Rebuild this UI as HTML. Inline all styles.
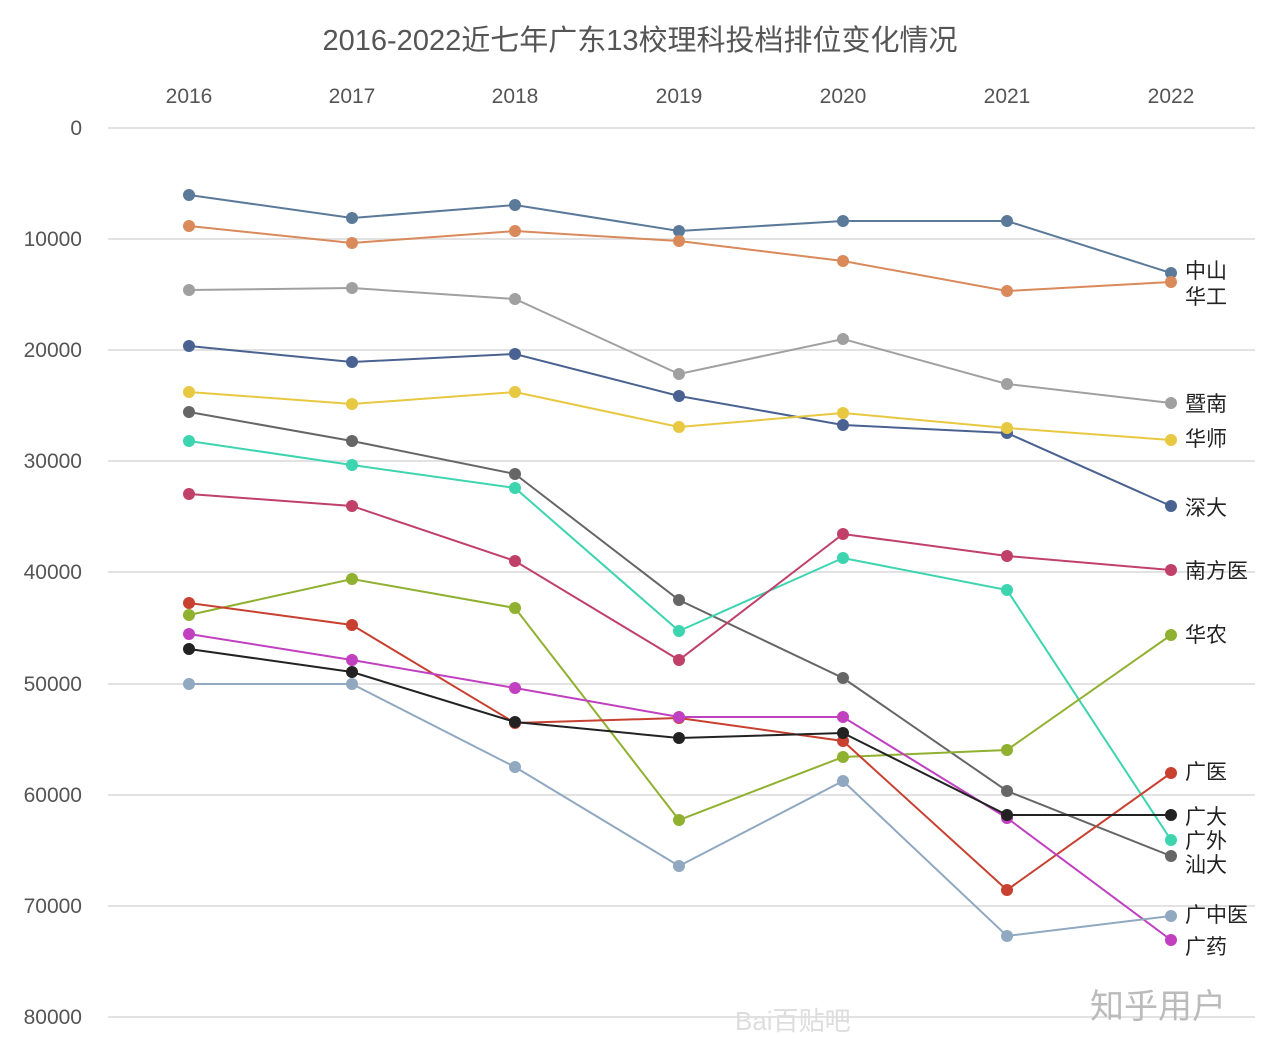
<!DOCTYPE html>
<html><head><meta charset="utf-8"><style>
html,body{margin:0;padding:0;background:#fff;}
svg{display:block;font-family:"Liberation Sans","Noto Sans CJK SC",sans-serif;}
</style></head><body>
<svg width="1280" height="1048" viewBox="0 0 1280 1048" xmlns="http://www.w3.org/2000/svg">
<rect width="1280" height="1048" fill="#fff"/>
<text x="640" y="50" text-anchor="middle" font-size="29" fill="#555">2016-2022近七年广东13校理科投档排位变化情况</text>
<g font-size="21" fill="#555" text-anchor="middle">
<text x="189" y="103">2016</text><text x="352" y="103">2017</text><text x="515" y="103">2018</text><text x="679" y="103">2019</text><text x="843" y="103">2020</text><text x="1007" y="103">2021</text><text x="1171" y="103">2022</text>
</g>
<g stroke="#e2e2e2" stroke-width="2">
<line x1="108" y1="128" x2="1255" y2="128"/><line x1="108" y1="239" x2="1255" y2="239"/><line x1="108" y1="350" x2="1255" y2="350"/><line x1="108" y1="461" x2="1255" y2="461"/><line x1="108" y1="572" x2="1255" y2="572"/><line x1="108" y1="684" x2="1255" y2="684"/><line x1="108" y1="795" x2="1255" y2="795"/><line x1="108" y1="906" x2="1255" y2="906"/><line x1="108" y1="1017" x2="1255" y2="1017"/>
</g>
<g font-size="21" fill="#555" text-anchor="end">
<text x="82" y="135">0</text><text x="82" y="246">10000</text><text x="82" y="357">20000</text><text x="82" y="468">30000</text><text x="82" y="579">40000</text><text x="82" y="691">50000</text><text x="82" y="802">60000</text><text x="82" y="913">70000</text><text x="82" y="1024">80000</text>
</g>
<g stroke-width="2" fill="none">
<polyline stroke="#5b7a9a" points="189,195 352,218 515,205 679,231 843,221 1007,221 1171,273"/>
<polyline stroke="#d9895a" points="189,226 352,243 515,231 679,241 843,261 1007,291 1171,282"/>
<polyline stroke="#a0a0a0" points="189,290 352,288 515,299 679,374 843,339 1007,384 1171,403"/>
<polyline stroke="#4a6291" points="189,346 352,362 515,354 679,396 843,425 1007,433 1171,506"/>
<polyline stroke="#e8c840" points="189,392 352,404 515,392 679,427 843,413 1007,428 1171,440"/>
<polyline stroke="#666666" points="189,412 352,441 515,474 679,600 843,678 1007,791 1171,856"/>
<polyline stroke="#3dd4b0" points="189,441 352,465 515,488 679,631 843,558 1007,590 1171,840"/>
<polyline stroke="#c0406a" points="189,494 352,506 515,561 679,660 843,534 1007,556 1171,570"/>
<polyline stroke="#90b030" points="189,615 352,579 515,608 679,820 843,757 1007,750 1171,635"/>
<polyline stroke="#c84030" points="189,603 352,625 515,723 679,718 843,741 1007,890 1171,773"/>
<polyline stroke="#c040c0" points="189,634 352,660 515,688 679,717 843,717 1007,818 1171,940"/>
<polyline stroke="#222222" points="189,649 352,672 515,722 679,738 843,733 1007,815 1171,815"/>
<polyline stroke="#90a8c0" points="189,684 352,684 515,767 679,866 843,781 1007,936 1171,916"/>
</g>
<g fill="#5b7a9a"><circle cx="189" cy="195" r="6"/><circle cx="352" cy="218" r="6"/><circle cx="515" cy="205" r="6"/><circle cx="679" cy="231" r="6"/><circle cx="843" cy="221" r="6"/><circle cx="1007" cy="221" r="6"/><circle cx="1171" cy="273" r="6"/></g>
<g fill="#d9895a"><circle cx="189" cy="226" r="6"/><circle cx="352" cy="243" r="6"/><circle cx="515" cy="231" r="6"/><circle cx="679" cy="241" r="6"/><circle cx="843" cy="261" r="6"/><circle cx="1007" cy="291" r="6"/><circle cx="1171" cy="282" r="6"/></g>
<g fill="#a0a0a0"><circle cx="189" cy="290" r="6"/><circle cx="352" cy="288" r="6"/><circle cx="515" cy="299" r="6"/><circle cx="679" cy="374" r="6"/><circle cx="843" cy="339" r="6"/><circle cx="1007" cy="384" r="6"/><circle cx="1171" cy="403" r="6"/></g>
<g fill="#4a6291"><circle cx="189" cy="346" r="6"/><circle cx="352" cy="362" r="6"/><circle cx="515" cy="354" r="6"/><circle cx="679" cy="396" r="6"/><circle cx="843" cy="425" r="6"/><circle cx="1007" cy="433" r="6"/><circle cx="1171" cy="506" r="6"/></g>
<g fill="#e8c840"><circle cx="189" cy="392" r="6"/><circle cx="352" cy="404" r="6"/><circle cx="515" cy="392" r="6"/><circle cx="679" cy="427" r="6"/><circle cx="843" cy="413" r="6"/><circle cx="1007" cy="428" r="6"/><circle cx="1171" cy="440" r="6"/></g>
<g fill="#666666"><circle cx="189" cy="412" r="6"/><circle cx="352" cy="441" r="6"/><circle cx="515" cy="474" r="6"/><circle cx="679" cy="600" r="6"/><circle cx="843" cy="678" r="6"/><circle cx="1007" cy="791" r="6"/><circle cx="1171" cy="856" r="6"/></g>
<g fill="#3dd4b0"><circle cx="189" cy="441" r="6"/><circle cx="352" cy="465" r="6"/><circle cx="515" cy="488" r="6"/><circle cx="679" cy="631" r="6"/><circle cx="843" cy="558" r="6"/><circle cx="1007" cy="590" r="6"/><circle cx="1171" cy="840" r="6"/></g>
<g fill="#c0406a"><circle cx="189" cy="494" r="6"/><circle cx="352" cy="506" r="6"/><circle cx="515" cy="561" r="6"/><circle cx="679" cy="660" r="6"/><circle cx="843" cy="534" r="6"/><circle cx="1007" cy="556" r="6"/><circle cx="1171" cy="570" r="6"/></g>
<g fill="#90b030"><circle cx="189" cy="615" r="6"/><circle cx="352" cy="579" r="6"/><circle cx="515" cy="608" r="6"/><circle cx="679" cy="820" r="6"/><circle cx="843" cy="757" r="6"/><circle cx="1007" cy="750" r="6"/><circle cx="1171" cy="635" r="6"/></g>
<g fill="#c84030"><circle cx="189" cy="603" r="6"/><circle cx="352" cy="625" r="6"/><circle cx="515" cy="723" r="6"/><circle cx="679" cy="718" r="6"/><circle cx="843" cy="741" r="6"/><circle cx="1007" cy="890" r="6"/><circle cx="1171" cy="773" r="6"/></g>
<g fill="#c040c0"><circle cx="189" cy="634" r="6"/><circle cx="352" cy="660" r="6"/><circle cx="515" cy="688" r="6"/><circle cx="679" cy="717" r="6"/><circle cx="843" cy="717" r="6"/><circle cx="1007" cy="818" r="6"/><circle cx="1171" cy="940" r="6"/></g>
<g fill="#222222"><circle cx="189" cy="649" r="6"/><circle cx="352" cy="672" r="6"/><circle cx="515" cy="722" r="6"/><circle cx="679" cy="738" r="6"/><circle cx="843" cy="733" r="6"/><circle cx="1007" cy="815" r="6"/><circle cx="1171" cy="815" r="6"/></g>
<g fill="#90a8c0"><circle cx="189" cy="684" r="6"/><circle cx="352" cy="684" r="6"/><circle cx="515" cy="767" r="6"/><circle cx="679" cy="866" r="6"/><circle cx="843" cy="781" r="6"/><circle cx="1007" cy="936" r="6"/><circle cx="1171" cy="916" r="6"/></g>
<g font-size="21" fill="#222">
<text x="1185" y="278">中山</text><text x="1185" y="304">华工</text><text x="1185" y="411">暨南</text><text x="1185" y="446">华师</text><text x="1185" y="515">深大</text><text x="1185" y="578">南方医</text><text x="1185" y="642">华农</text><text x="1185" y="779">广医</text><text x="1185" y="824">广大</text><text x="1185" y="848">广外</text><text x="1185" y="872">汕大</text><text x="1185" y="922">广中医</text><text x="1185" y="954">广药</text>
</g>
<text x="1090" y="1018" font-size="34" fill="#bbb">知乎用户</text>
<text x="735" y="1030" font-size="26" fill="#ddd">Bai百贴吧</text>
</svg>
</body></html>
